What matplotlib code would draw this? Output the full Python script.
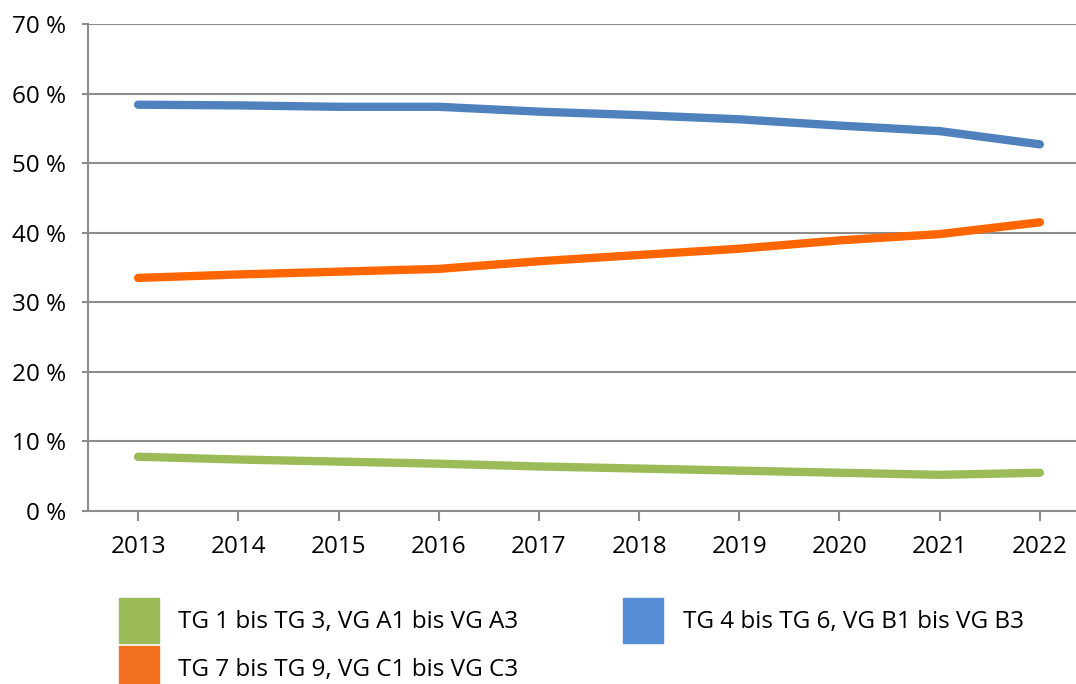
import matplotlib.pyplot as plt
from matplotlib.patches import Patch
from matplotlib.ticker import FuncFormatter

# Daten (Anteile in %)
jahre = [2013, 2014, 2015, 2016, 2017, 2018, 2019, 2020, 2021, 2022]
tg_1_3 = [7.8, 7.4, 7.1, 6.8, 6.4, 6.1, 5.8, 5.5, 5.2, 5.5]
tg_4_6 = [58.4, 58.3, 58.1, 58.1, 57.4, 56.9, 56.3, 55.4, 54.6, 52.7]
tg_7_9 = [33.5, 34.0, 34.4, 34.8, 35.9, 36.8, 37.7, 38.9, 39.8, 41.5]

labels = ['TG 1 bis TG 3, VG A1 bis VG A3',
          'TG 4 bis TG 6, VG B1 bis VG B3',
          'TG 7 bis TG 9, VG C1 bis VG C3']

plt.rcParams['font.family'] = ['Open Sans', 'DejaVu Sans']

fig = plt.figure(figsize=(10.76, 6.84), dpi=100)
ax = fig.add_axes([88 / 1076, 1 - 511 / 684, 1002 / 1076, 487 / 684])

x = list(range(len(jahre)))
ax.plot(x, tg_4_6, color='#4F81BD', lw=6, solid_capstyle='round')
ax.plot(x, tg_7_9, color='#FF6600', lw=6, solid_capstyle='round')
ax.plot(x, tg_1_3, color='#9BBB59', lw=6, solid_capstyle='round')

ax.set_xlim(-0.5, len(jahre) - 0.5)
ax.set_ylim(0, 70)
ax.set_yticks(range(0, 71, 10))
ax.yaxis.set_major_formatter(FuncFormatter(lambda v, p: f'{int(v)} %'))
ax.set_xticks(x)
ax.set_xticklabels([str(j) for j in jahre])

ax.grid(axis='y', color='#8C8C8C', lw=1.5)
ax.set_axisbelow(True)
for s in ['top', 'right']:
    ax.spines[s].set_visible(False)
for s in ['left', 'bottom']:
    ax.spines[s].set_color('#8C8C8C')
    ax.spines[s].set_linewidth(1.5)
ax.tick_params(axis='y', length=4, width=1.5, color='#8C8C8C', labelsize=17.5, pad=12)
ax.tick_params(axis='x', length=7, width=1.5, color='#8C8C8C', labelsize=17.5, pad=10)

handles = [Patch(color='#9BBB59'), Patch(color='#F37021'), Patch(color='#558ED5')]
fig.legend(handles, [labels[0], labels[2], labels[1]], ncol=2,
           loc='upper left', bbox_to_anchor=(97 / 1076, 1 - 576 / 684),
           frameon=False, fontsize=17.5, handlelength=1.65, handleheight=2.45,
           handletextpad=0.8, columnspacing=4.3, labelspacing=0.15)

fig.savefig('out.png', dpi=100)
